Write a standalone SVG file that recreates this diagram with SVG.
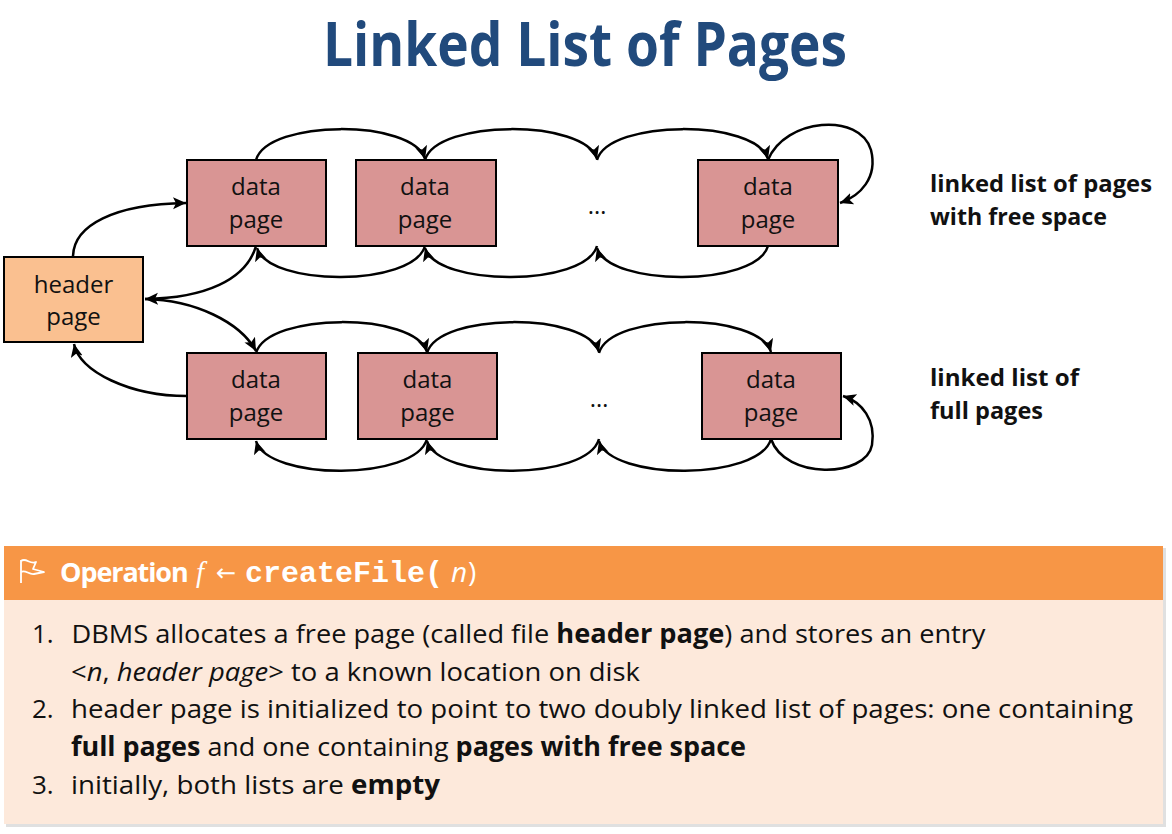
<svg xmlns="http://www.w3.org/2000/svg" width="1172" height="834" viewBox="0 0 1172 834">
<defs>
<marker id="ah" markerUnits="userSpaceOnUse" markerWidth="16" markerHeight="14" refX="13" refY="6" orient="auto">
<path d="M0,0 L13,6 L0,12 L3,6 Z" fill="#000"/>
</marker>
<style>
.box{stroke:#000;stroke-width:2}
.dp{fill:#d99594}
.hp{fill:#fac090}
.lbl{font-family:"Open Sans","Liberation Sans",sans-serif;font-size:24px;fill:#111;text-anchor:middle}
.side{font-family:"Open Sans","Liberation Sans",sans-serif;font-size:24px;font-weight:bold;fill:#111}
.body{font-family:"Open Sans","Liberation Sans",sans-serif;font-size:26px;fill:#111}
.c{fill:none;stroke:#000;stroke-width:2.5;marker-end:url(#ah)}
</style>
</defs>
<rect width="1172" height="834" fill="#fff"/>
<text x="323" y="66" textLength="524" lengthAdjust="spacingAndGlyphs" font-family="Open Sans, Liberation Sans, sans-serif" font-size="60" font-weight="bold" fill="#214a7c">Linked List of Pages</text>

<g id="connectors">
<path class="c" d="M73,257 C73,225 115,204 186,203"/>
<path class="c" d="M256,246 C246,280 205,298 145,299"/>
<path class="c" d="M145,299 C195,300 240,322 256,351"/>
<path class="c" d="M187,396 C130,396 80,372 74,344"/>
<path class="c" d="M256,160 C268,119 413,119 425,159"/>
<path class="c" d="M425,160 C437,119 585,119 597,159"/>
<path class="c" d="M597,160 C609,119 756,119 768,159"/>
<path class="c" d="M768,160 C785,118 860,112 871,150 C878,178 860,196 840,203"/>
<path class="c" d="M425,246 C413,287 269,287 257,248"/>
<path class="c" d="M597,246 C585,287 437,287 425,248"/>
<path class="c" d="M768,246 C756,287 609,287 597,248"/>
<path class="c" d="M256,353 C268,312 415,312 427,352"/>
<path class="c" d="M427,353 C439,312 587,312 599,352"/>
<path class="c" d="M599,353 C611,312 759,312 771,352"/>
<path class="c" d="M427,439 C415,481 268,481 256,441"/>
<path class="c" d="M599,439 C587,481 439,481 427,441"/>
<path class="c" d="M771,439 C759,481 611,481 599,441"/>
<path class="c" d="M771,439 C785,480 866,478 872,445 C876,420 862,402 843,396"/>
</g>

<g id="header-page">
<rect class="box hp" x="4" y="257" width="139" height="85"/>
<text class="lbl" x="73.5" y="293">header</text>
<text class="lbl" x="73.5" y="325">page</text>
</g>
<g id="free-page-1">
<rect class="box dp" x="187" y="160" width="139" height="86"/>
<text class="lbl" x="256" y="195">data</text>
<text class="lbl" x="256" y="228">page</text>
</g>
<g id="free-page-2">
<rect class="box dp" x="356" y="160" width="140" height="86"/>
<text class="lbl" x="425" y="195">data</text>
<text class="lbl" x="425" y="228">page</text>
</g>
<g id="free-ellipsis">
<text class="lbl" x="597" y="214">…</text>
</g>
<g id="free-page-3">
<rect class="box dp" x="698" y="160" width="140" height="86"/>
<text class="lbl" x="768" y="195">data</text>
<text class="lbl" x="768" y="228">page</text>
</g>
<g id="full-page-1">
<rect class="box dp" x="187" y="353" width="139" height="86"/>
<text class="lbl" x="256" y="388">data</text>
<text class="lbl" x="256" y="421">page</text>
</g>
<g id="full-page-2">
<rect class="box dp" x="358" y="353" width="139" height="86"/>
<text class="lbl" x="427.5" y="388">data</text>
<text class="lbl" x="427.5" y="421">page</text>
</g>
<g id="full-ellipsis">
<text class="lbl" x="599" y="407">…</text>
</g>
<g id="full-page-3">
<rect class="box dp" x="702" y="353" width="139" height="86"/>
<text class="lbl" x="771" y="388">data</text>
<text class="lbl" x="771" y="421">page</text>
</g>

<g id="side-labels">
<text class="side" x="930" y="192" textLength="222" lengthAdjust="spacingAndGlyphs">linked list of pages</text>
<text class="side" x="930" y="225" textLength="177" lengthAdjust="spacingAndGlyphs">with free space</text>
<text class="side" x="930" y="386" textLength="149" lengthAdjust="spacingAndGlyphs">linked list of</text>
<text class="side" x="930" y="419" textLength="113" lengthAdjust="spacingAndGlyphs">full pages</text>
</g>

<g id="operation-box">
<rect x="6" y="548" width="1160" height="279" fill="#000" opacity="0.12"/>
<rect x="4" y="546" width="1159" height="54" fill="#f79646"/>
<rect x="4" y="600" width="1159" height="224" fill="#fde9db"/>
<path d="M21,583 L21,560 M21,561 C26,557 30,565 36,562 L33,569 L44,572 L34,574 C29,575 25,569 21,572" fill="none" stroke="#fff" stroke-width="1.8" stroke-linejoin="round"/>
<text y="582" font-family="Open Sans, Liberation Sans, sans-serif" font-size="28" fill="#fff"><tspan x="60" font-weight="bold" font-size="27" letter-spacing="-1.1">Operation</tspan><tspan x="196" font-family="Liberation Serif, serif" font-style="italic" font-size="29" letter-spacing="0">f</tspan><tspan x="216" y="581" font-family="DejaVu Sans, sans-serif" font-size="24">←</tspan><tspan x="245" y="582" font-family="Liberation Mono, monospace" font-weight="bold" font-size="30">createFile(</tspan><tspan x="451" font-style="italic">n</tspan><tspan x="468">)</tspan></text>
<text class="body" x="32" y="643">1.</text>
<text class="body" x="71.5" y="643" textLength="914" lengthAdjust="spacingAndGlyphs">DBMS allocates a free page (called file <tspan font-weight="bold">header page</tspan>) and stores an entry</text>
<text class="body" x="71" y="680.5" textLength="569" lengthAdjust="spacingAndGlyphs">&lt;<tspan font-style="italic">n</tspan>, <tspan font-style="italic">header page</tspan>&gt; to a known location on disk</text>
<text class="body" x="32" y="718">2.</text>
<text class="body" x="71" y="718" textLength="1062" lengthAdjust="spacingAndGlyphs">header page is initialized to point to two doubly linked list of pages: one containing</text>
<text class="body" x="71" y="756" textLength="675" lengthAdjust="spacingAndGlyphs"><tspan font-weight="bold">full pages</tspan> and one containing <tspan font-weight="bold">pages with free space</tspan></text>
<text class="body" x="32" y="794">3.</text>
<text class="body" x="71" y="794" textLength="369" lengthAdjust="spacingAndGlyphs">initially, both lists are <tspan font-weight="bold">empty</tspan></text>
</g>
</svg>
